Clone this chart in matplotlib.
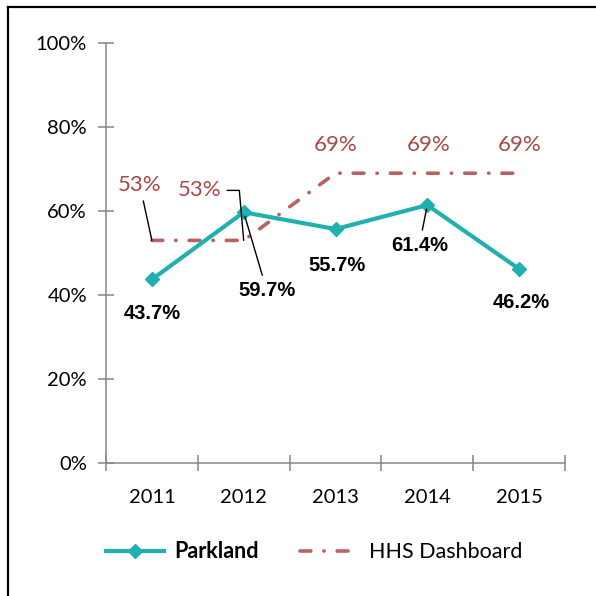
import matplotlib.pyplot as plt
from matplotlib.lines import Line2D
from matplotlib.ticker import FixedLocator

years = ["2011", "2012", "2013", "2014", "2015"]
parkland = [43.7, 59.7, 55.7, 61.4, 46.2]
hhs = [53, 53, 69, 69, 69]
y_ticks = [0, 20, 40, 60, 80, 100]

teal = "#20B0B0"
brown = "#B86262"
brown_txt = "#A84848"
gray = "#868686"
px = 72 / 100  # pixels -> points

fig = plt.figure(figsize=(5.96, 5.96), dpi=100)
ax = fig.add_axes([106 / 596, 1 - 463 / 596, (565 - 106) / 596, (463 - 43) / 596])

x = list(range(len(years)))
ax.plot(x, hhs, color=brown, lw=2.6, linestyle=(0, (3, 3.6, 0.1, 3.6)),
        dash_capstyle="round", label="HHS Dashboard")
ax.plot(x, parkland, color=teal, lw=3, marker="D", markersize=7, label="Parkland")

ax.set_xlim(-0.5, len(years) - 0.5)
ax.set_ylim(0, 100)
ax.set_yticks(y_ticks)
ax.set_yticklabels([f"{v}%" for v in y_ticks], fontfamily="Lato", fontsize=14.5)
ax.xaxis.set_major_locator(FixedLocator([i - 0.5 for i in range(len(years) + 1)]))
ax.xaxis.set_minor_locator(FixedLocator(x))
ax.set_xticklabels([], minor=False)
ax.set_xticklabels(years, minor=True, fontfamily="Lato", fontsize=14.5)
ax.tick_params(axis="both", which="major", direction="inout", length=11.5, width=1.1, color=gray)
ax.tick_params(axis="y", pad=8)
ax.tick_params(axis="x", which="minor", length=0, pad=19)

for s in ["top", "right"]:
    ax.spines[s].set_visible(False)
for s in ["left", "bottom"]:
    ax.spines[s].set_color(gray)
    ax.spines[s].set_linewidth(1.1)

# Parkland labels (bold)
pk_off = [(0, -34), (23, -78), (2, -36), (-8, -40), (2, -34)]
pk_leader = [False, True, False, True, False]
for i, v in enumerate(parkland):
    dx, dy = pk_off[i]
    ap = dict(arrowstyle="-", color="black", lw=1, shrinkA=2, shrinkB=3) if pk_leader[i] else None
    ax.annotate(f"{v}%", xy=(i, v), xytext=(dx * px, dy * px), textcoords="offset points",
                ha="center", va="center", fontsize=14.5, fontweight="bold",
                fontfamily="Liberation Sans", arrowprops=ap)

# HHS labels
hhs_off = [(-12, 55), (-44, 50), (0, 28), (1, 28), (1, 28)]
for i, v in enumerate(hhs):
    dx, dy = hhs_off[i]
    ap = None
    if i == 0:
        ap = dict(arrowstyle="-", color="black", lw=1, shrinkA=2, shrinkB=0)
    elif i == 1:
        ap = dict(arrowstyle="-", color="black", lw=1, shrinkA=2, shrinkB=0,
                  connectionstyle="angle,angleA=0,angleB=95,rad=0")
    ax.annotate(f"{v}%", xy=(i, v), xytext=(dx * px, dy * px), textcoords="offset points",
                ha="center", va="center", fontsize=16, color=brown_txt,
                fontfamily="Lato", arrowprops=ap)

handles, labels = ax.get_legend_handles_labels()
leg = fig.legend(handles[::-1], labels[::-1], loc="center", bbox_to_anchor=(0.527, 1 - 552 / 596),
                 ncol=2, frameon=False, handlelength=2.7, columnspacing=1.9, handletextpad=0.5,
                 prop={"family": "Lato", "size": 15.5})
leg.get_texts()[0].set_fontweight("bold")

# outer frame (left and top only)
fig.add_artist(Line2D([8 / 596, 8 / 596], [0, 1 - 7 / 596], color="black", lw=1.6))
fig.add_artist(Line2D([8 / 596, 1], [1 - 7 / 596, 1 - 7 / 596], color="black", lw=1.6))

fig.savefig("out.png", dpi=100)
